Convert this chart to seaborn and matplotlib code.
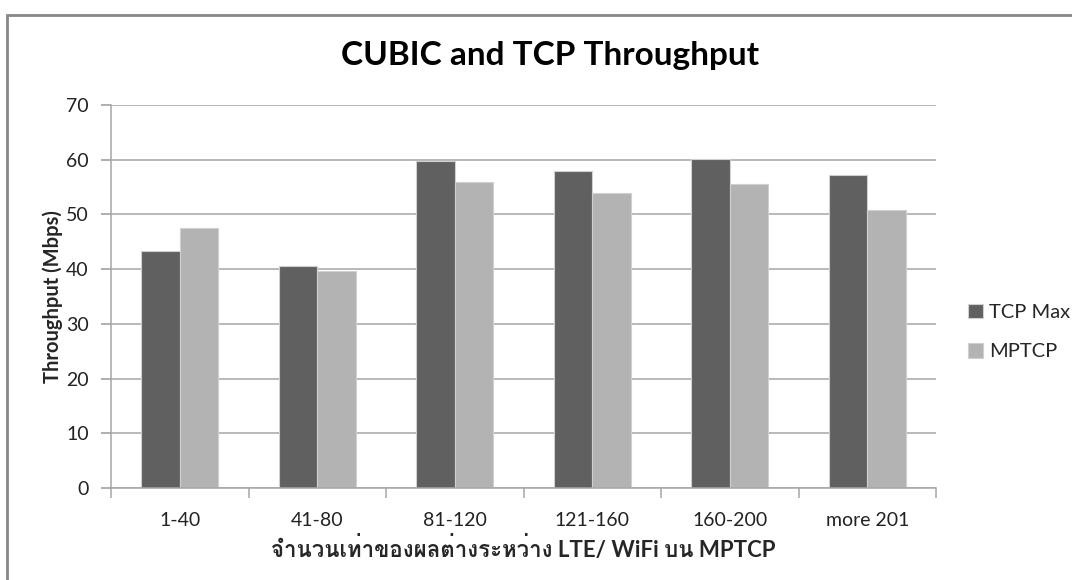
import matplotlib
matplotlib.use('Agg')
import matplotlib.pyplot as plt
import pandas as pd
import seaborn as sns
from matplotlib import font_manager
from matplotlib.ft2font import FT2Font
from matplotlib.patches import Rectangle

# data
categories = ['1-40', '41-80', '81-120', '121-160', '160-200', 'more 201']
tcp_max = [43.3, 40.6, 59.7, 58.0, 60.2, 57.2]
mptcp = [47.5, 39.7, 55.9, 53.9, 55.5, 50.8]
series_names = ['TCP Max', 'MPTCP']
y_ticks = [0, 10, 20, 30, 40, 50, 60, 70]

title = 'CUBIC and TCP Throughput'
x_label = 'จำนวนเท่าของผลต่างระหว่าง LTE/ WiFi บน MPTCP'
y_label = 'Throughput (Mbps)'


def find_thai_font():
    for f in font_manager.fontManager.ttflist:
        try:
            if 0x0E08 in FT2Font(f.fname).get_charmap():
                return f.name
        except Exception:
            continue
    return None


sns.set_theme(style='white')
thai_font = find_thai_font()
families = ['Lato']
if thai_font:
    families.append(thai_font)
families.append('DejaVu Sans')
plt.rcParams['font.family'] = families

df = pd.DataFrame({
    'category': categories * 2,
    'value': tcp_max + mptcp,
    'series': [series_names[0]] * len(categories) + [series_names[1]] * len(categories),
})

fig = plt.figure(figsize=(10.72, 5.8), dpi=100)
ax = fig.add_axes([111 / 1072, 1 - 488 / 580, (936 - 111) / 1072, (488 - 105) / 580])

sns.barplot(data=df, x='category', y='value', hue='series', order=categories,
            hue_order=series_names, palette=['#606060', '#b3b3b3'],
            width=0.56, gap=0, edgecolor='#d0d0d0', linewidth=0.8, ax=ax)

ax.set_ylim(0, 70)
ax.set_xlim(-0.5, len(categories) - 0.5)
ax.set_yticks(y_ticks)
ax.yaxis.grid(True, color='#a6a6a6', linewidth=1.1)
ax.set_axisbelow(True)
for side in ['top', 'right']:
    ax.spines[side].set_visible(False)
for side in ['left', 'bottom']:
    ax.spines[side].set_color('#a6a6a6')
    ax.spines[side].set_linewidth(1.1)

ax.tick_params(axis='y', which='major', left=True, length=7, color='#a6a6a6',
               labelsize=14, labelcolor='#222222', pad=9)
ax.tick_params(axis='x', which='major', length=0, labelsize=14, labelcolor='#222222', pad=17)
ax.set_xticks([i + 0.5 for i in range(-1, len(categories))], minor=True)
ax.tick_params(axis='x', which='minor', bottom=True, length=7, color='#a6a6a6', width=1.1)

ax.set_xlabel(x_label, fontsize=16, fontweight='bold', labelpad=5)
ax.set_ylabel(y_label, fontsize=14.5, fontweight='bold', labelpad=2)

fig.text(550 / 1072, 1 - 55 / 580, title, fontsize=24, fontweight='bold',
         ha='center', va='center', color='black')

ax.legend(loc='center left', bbox_to_anchor=(968 / 1072, 1 - 332 / 580),
          bbox_transform=fig.transFigure, frameon=False, fontsize=14.5,
          handlelength=0.75, handleheight=0.75, handletextpad=0.3,
          labelspacing=1.1, borderpad=0, borderaxespad=0, title=None)

fig.patches.append(Rectangle((7 / 1072, -0.05), 1.1, 1 - 15 / 580 + 0.05,
                             transform=fig.transFigure, fill=False,
                             edgecolor='#888888', linewidth=2))

fig.savefig('out.png', dpi=100)
